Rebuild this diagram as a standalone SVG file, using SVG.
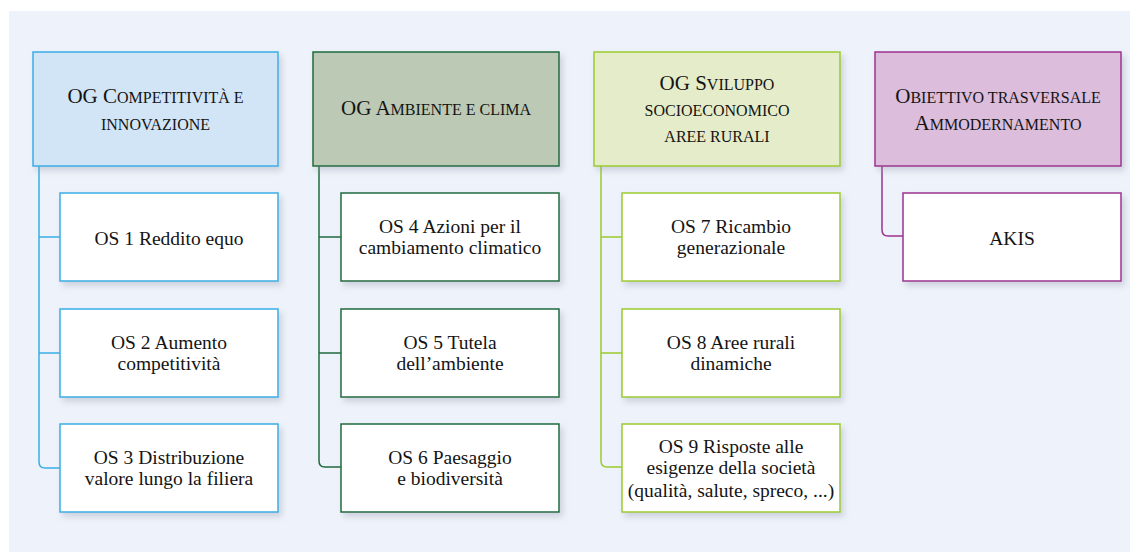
<svg xmlns="http://www.w3.org/2000/svg" width="1130" height="552" viewBox="0 0 1130 552">
<defs>
<filter id="sh" x="-10%" y="-10%" width="130%" height="140%">
<feDropShadow dx="3" dy="4" stdDeviation="3" flood-color="#8a93a6" flood-opacity="0.35"/>
</filter>
</defs>
<style>
.box{filter:url(#sh);stroke-width:1.5}
.c1{stroke:#3aaee6}.c2{stroke:#1f6b3e}.c3{stroke:#9ccb2b}.c4{stroke:#9d3290}
.h1{fill:#d1e5f7}.h2{fill:#bbc9b5}.h3{fill:#e4ecc9}.h4{fill:#dcbddc}
.w{fill:#ffffff}
.ln{fill:none;stroke-width:1.5}
text{font-family:"Liberation Serif","Times New Roman",serif;fill:#141414;text-anchor:middle}
.ht{font-size:21px}
.sc{font-size:16px;text-transform:uppercase}
.ot{font-size:19.5px}
</style>
<rect x="9" y="11" width="1121" height="541" fill="#eef2fa"/>
<g id="connectors">
<path class="ln c1" d="M39,166 V462 Q39,468 45,468 H60 M39,237 H60 M39,353 H60"/>
<path class="ln c2" d="M319,166 V461 Q319,467 325,467 H341 M319,237 H341 M319,353 H341"/>
<path class="ln c3" d="M601,166 V461 Q601,467 607,467 H622 M601,237 H622 M601,353 H622"/>
<path class="ln c4" d="M882,166 V230 Q882,236 888,236 H903"/>
</g>
<g id="og1"><rect class="box c1 h1" x="33" y="52" width="245" height="114"/>
<text class="ht" x="155.5" y="103">OG C<tspan class="sc">ompetitività e</tspan></text><text class="ht" x="155.5" y="130"><tspan class="sc">innovazione</tspan></text></g>
<g id="og2"><rect class="box c2 h2" x="313" y="52" width="246" height="114"/>
<text class="ht" x="436" y="115">OG A<tspan class="sc">mbiente e clima</tspan></text></g>
<g id="og3"><rect class="box c3 h3" x="594" y="52" width="246" height="114"/>
<text class="ht" x="717" y="90">OG S<tspan class="sc">viluppo</tspan></text><text class="ht" x="717" y="116"><tspan class="sc">socioeconomico</tspan></text><text class="ht" x="717" y="142"><tspan class="sc">aree rurali</tspan></text></g>
<g id="og4"><rect class="box c4 h4" x="875" y="52" width="246" height="114"/>
<text class="ht" x="998" y="103">O<tspan class="sc">biettivo trasversale</tspan></text><text class="ht" x="998" y="130">A<tspan class="sc">mmodernamento</tspan></text></g>
<g id="os1"><rect class="box c1 w" x="60" y="193" width="218" height="88"/>
<text class="ot" x="169" y="245">OS 1 Reddito equo</text></g>
<g id="os2"><rect class="box c1 w" x="60" y="309" width="218" height="88"/>
<text class="ot" x="169" y="349">OS 2 Aumento</text><text class="ot" x="169" y="370">competitività</text></g>
<g id="os3"><rect class="box c1 w" x="60" y="424" width="218" height="88"/>
<text class="ot" x="169" y="464">OS 3 Distribuzione</text><text class="ot" x="169" y="485">valore lungo la filiera</text></g>
<g id="os4"><rect class="box c2 w" x="341" y="193" width="218" height="88"/>
<text class="ot" x="450" y="233">OS 4 Azioni per il</text><text class="ot" x="450" y="254">cambiamento climatico</text></g>
<g id="os5"><rect class="box c2 w" x="341" y="309" width="218" height="88"/>
<text class="ot" x="450" y="349">OS 5 Tutela</text><text class="ot" x="450" y="370">dell’ambiente</text></g>
<g id="os6"><rect class="box c2 w" x="341" y="424" width="218" height="88"/>
<text class="ot" x="450" y="464">OS 6 Paesaggio</text><text class="ot" x="450" y="485">e biodiversità</text></g>
<g id="os7"><rect class="box c3 w" x="622" y="193" width="218" height="88"/>
<text class="ot" x="731" y="233">OS 7 Ricambio</text><text class="ot" x="731" y="254">generazionale</text></g>
<g id="os8"><rect class="box c3 w" x="622" y="309" width="218" height="88"/>
<text class="ot" x="731" y="349">OS 8 Aree rurali</text><text class="ot" x="731" y="370">dinamiche</text></g>
<g id="os9"><rect class="box c3 w" x="622" y="424" width="218" height="88"/>
<text class="ot" x="731" y="453">OS 9 Risposte alle</text><text class="ot" x="731" y="474">esigenze della società</text><text class="ot" x="731" y="497">(qualità, salute, spreco, ...)</text></g>
<g id="akis"><rect class="box c4 w" x="903" y="193" width="218" height="88"/>
<text class="ot" x="1012" y="245">AKIS</text></g>
</svg>
